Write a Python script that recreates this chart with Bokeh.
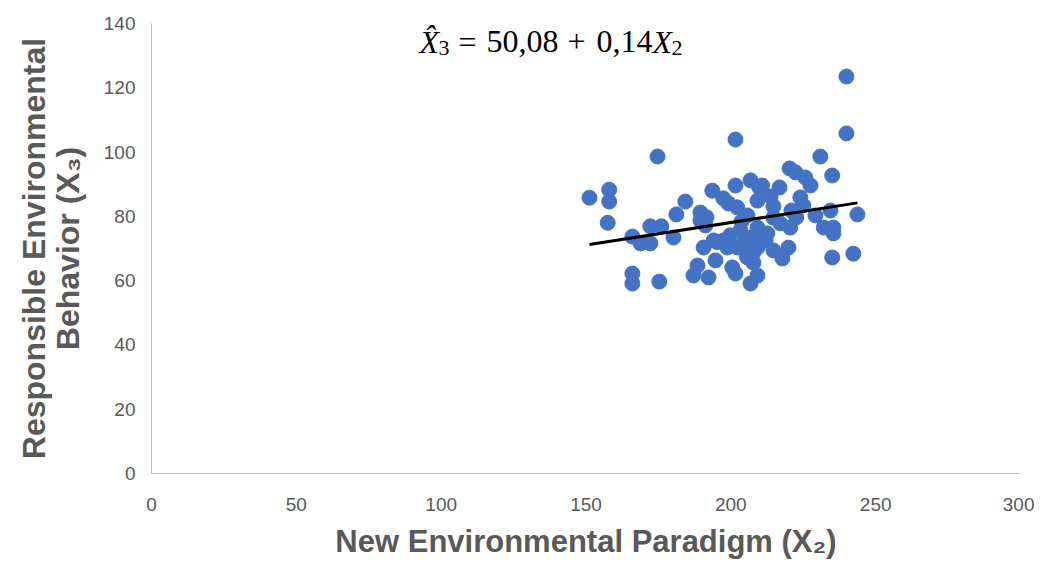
from bokeh.plotting import figure
from bokeh.models import Label, Range1d, FixedTicker, LinearAxis
from bokeh.embed import file_html
from bokeh.resources import INLINE

# ---- data ----
nep_x2 = [151.2, 158.0, 158.0, 157.5, 166.0, 166.0, 166.0, 168.8, 172.2, 172.2,
          176.0, 174.7, 175.3, 180.2, 181.2, 184.3, 189.5, 191.6, 189.5, 191.2,
          193.6, 197.4, 199.2, 201.6, 201.6, 202.2, 206.8, 209.8, 209.2, 213.7,
          214.7, 216.8, 220.3, 222.3, 225.7, 227.5, 224.0, 225.0, 230.9, 235.0,
          239.9, 239.9, 220.9, 222.6, 229.2, 234.4, 243.7, 205.7, 214.7, 217.1,
          220.5, 209.2, 232.1, 235.4, 235.4, 203.3, 199.8, 197.4, 206.8, 210.2,
          212.6, 194.1, 190.6, 198.8, 202.3, 205.7, 209.2, 212.0, 214.7, 217.8,
          219.9, 207.8, 209.2, 206.8, 235.0, 242.3, 188.5, 187.1, 194.7, 200.5,
          201.6, 192.3, 204.4, 207.8, 205.6, 203.7, 195.3, 210.8]
reb_x3 = [85.8, 88.3, 84.6, 78.0, 73.7, 62.2, 59.1, 71.6, 71.6, 76.9,
          76.9, 98.6, 59.7, 73.4, 80.6, 84.6, 81.2, 79.7, 78.7, 77.2,
          88.0, 85.6, 84.0, 103.9, 89.6, 82.8, 91.2, 89.0, 84.9, 86.2,
          83.1, 89.0, 94.9, 93.7, 92.1, 89.6, 85.9, 83.4, 98.6, 92.7,
          123.5, 105.8, 81.8, 79.7, 80.3, 81.8, 80.6, 80.3, 79.6, 77.8,
          76.5, 76.5, 76.5, 76.5, 74.7, 75.6, 74.1, 72.5, 73.4, 73.4,
          74.7, 72.5, 70.3, 70.3, 70.3, 70.3, 70.3, 72.5, 69.4, 66.9,
          70.3, 65.6, 61.6, 59.1, 67.2, 68.4, 64.7, 61.6, 66.3, 64.1,
          62.2, 61.0, 71.6, 68.8, 67.3, 78.4, 72.0, 89.6]

intercept = 50.08
slope = 0.14

x_ticks = [0, 50, 100, 150, 200, 250, 300]
y_ticks = [0, 20, 40, 60, 80, 100, 120, 140]

x_title = "New Environmental Paradigm (X\u2082)"
y_title_line1 = "Responsible Environmental"
y_title_line2 = "Behavior (X\u2083)"

# ---- figure ----
p = figure(width=1034, height=564, output_backend="svg", toolbar_location=None,
           x_range=Range1d(0, 300), y_range=Range1d(0, 140),
           min_border_left=151, min_border_right=14, min_border_top=23,
           min_border_bottom=91)
p.outline_line_color = None
p.grid.visible = False


def style_axis(ax):
    ax.axis_line_color = "#BFBFBF"
    ax.axis_line_width = 1
    ax.major_tick_line_color = None
    ax.minor_tick_line_color = None
    ax.major_tick_out = 0
    ax.major_tick_in = 0
    ax.minor_tick_out = 0
    ax.minor_tick_in = 0
    ax.major_label_text_color = "#595959"
    ax.major_label_text_font = "Liberation Sans"
    ax.major_label_text_font_size = "19px"
    ax.axis_label_text_color = "#595959"
    ax.axis_label_text_font = "Liberation Sans"
    ax.axis_label_text_font_style = "bold"


style_axis(p.xaxis[0])
style_axis(p.yaxis[0])

p.xaxis.axis_label_text_font_size = "31px"
p.yaxis.axis_label_text_font_size = "32px"

p.xaxis.ticker = FixedTicker(ticks=x_ticks)
p.yaxis.ticker = FixedTicker(ticks=y_ticks)
p.xaxis.axis_label = x_title
p.yaxis.axis_label = y_title_line2
p.xaxis.major_label_standoff = 24
p.yaxis.major_label_standoff = 16
p.xaxis.axis_label_standoff = 10
p.yaxis.axis_label_standoff = 15

# outer (first) line of the y title, as a label-only axis
outer = LinearAxis(ticker=FixedTicker(ticks=[]), axis_label=y_title_line1)
style_axis(outer)
outer.axis_line_color = None
outer.axis_label_text_font_size = "32px"
outer.axis_label_standoff = -5
outer.major_label_standoff = 0
p.add_layout(outer, "left")

p.scatter(nep_x2, reb_x3, size=15, color="#4472C4", line_color="#4472C4")

x0, x1 = min(nep_x2), max(nep_x2)
p.line([x0, x1], [intercept + slope * x0, intercept + slope * x1],
       line_color="black", line_width=3)

# ---- regression equation (anchored at top-left of frame, offsets in px) ----
def piece(text, dx, dy, size, style="normal", font="Liberation Serif"):
    p.add_layout(Label(x=0, y=140, x_offset=dx, y_offset=dy, text=text,
                       text_font=font, text_font_size=size,
                       text_font_style=style, text_color="black",
                       text_baseline="alphabetic", text_align="left"))

piece("X\u0302", 268, -18, "32px", "italic")
piece("3", 287, -24, "22px")
piece("=", 307, -18, "32px")
piece("50,08", 335, -18, "32px")
piece("+", 416, -18, "32px")
piece("0,14", 445, -18, "32px")
piece("X", 501, -18, "32px", "italic")
piece("2", 520, -24, "22px")

open("out.html", "w").write(file_html(p, INLINE))
